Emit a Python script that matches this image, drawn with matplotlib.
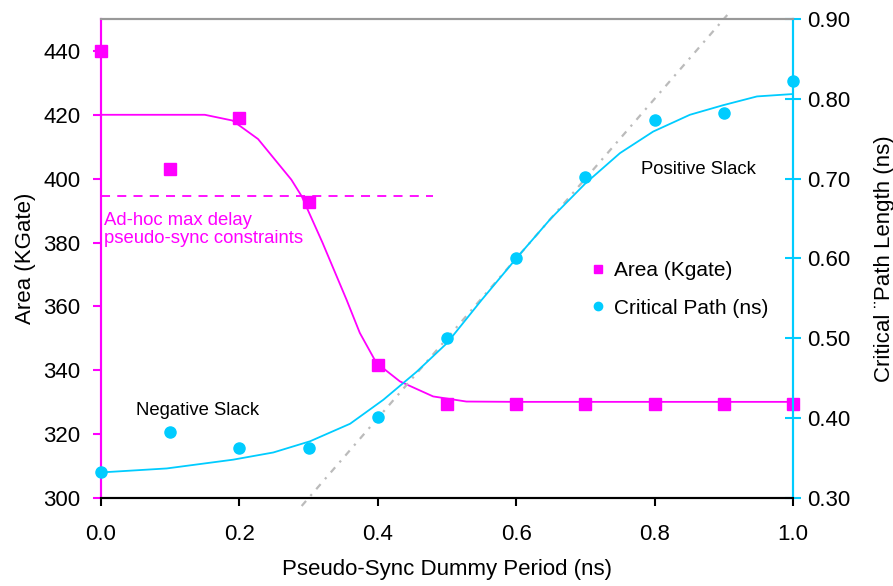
import matplotlib
matplotlib.use("Agg")
import matplotlib.pyplot as plt
from matplotlib.lines import Line2D

plt.rcParams['font.family'] = ['Liberation Sans', 'DejaVu Sans']

# measured points
period = [0.0, 0.1, 0.2, 0.3, 0.4, 0.5, 0.6, 0.7, 0.8, 0.9, 1.0]
area = [440, 403, 419, 392.7, 341.5, 329.5, 329.5, 329.5, 329.5, 329.5, 329.5]
crit = [0.332, 0.383, 0.362, 0.362, 0.402, 0.501, 0.601, 0.702, 0.773, 0.782, 0.822]

# fitted curves
area_fit_x = [0.0, 0.15, 0.19, 0.227, 0.275, 0.29, 0.32, 0.355, 0.374, 0.398, 0.432, 0.48, 0.504, 0.528, 0.6, 0.8, 1.0]
area_fit_y = [420, 420, 418.2, 412.4, 399.7, 394.5, 380, 362, 351.7, 342.3, 336.5, 331.8, 331, 330.2, 330.1, 330.1, 330.1]
crit_fit_x = [0.0, 0.095, 0.191, 0.249, 0.302, 0.36, 0.408, 0.456, 0.5, 0.55, 0.6, 0.65, 0.7, 0.75, 0.798, 0.851, 0.899, 0.948, 1.0]
crit_fit_y = [0.332, 0.337, 0.348, 0.357, 0.371, 0.393, 0.423, 0.458, 0.494, 0.548, 0.600, 0.650, 0.694, 0.732, 0.759, 0.780, 0.792, 0.803, 0.806]

# ad-hoc constraint level and ideal line
adhoc_level = 394.6
ideal_x = [0.29, 0.905]
ideal_y = [0.29, 0.905]

MAG = '#FF00FF'
CYAN = '#00CCFF'

fig = plt.figure(figsize=(8.93, 5.86), dpi=100)
ax = fig.add_axes([0.1131, 0.1502, 0.7749, 0.8174])
ax2 = ax.twinx()

ax.plot(area_fit_x, area_fit_y, color=MAG, lw=1.3)
ax.plot(period, area, 's', color=MAG, ms=8, clip_on=False, zorder=5)
ax.plot([0, 0.48], [adhoc_level, adhoc_level], color=MAG, lw=1.3, dashes=(5, 4))
ax.text(0.005, 389.5, "Ad-hoc max delay\npseudo-sync constraints", color=MAG,
        fontsize=13.3, va='top', ha='left', linespacing=1.05)
ax.text(0.05, 324.8, "Negative Slack", fontsize=13.3, va='bottom', ha='left')
ax.text(0.78, 400.2, "Positive Slack", fontsize=13.3, va='bottom', ha='left')

ax2.plot(ideal_x, ideal_y, color='#BBBBBB', lw=1.6, dashes=(3, 3, 1, 3), clip_on=False)
ax2.plot(crit_fit_x, crit_fit_y, color=CYAN, lw=1.3)
ax2.plot(period, crit, 'o', color=CYAN, ms=8, clip_on=False, zorder=5)

ax.set_xlim(0, 1.0)
ax.set_ylim(300, 450)
ax2.set_ylim(0.30, 0.90)
ax.set_xticks([0.0, 0.2, 0.4, 0.6, 0.8, 1.0])
ax.set_xticklabels(['0.0', '0.2', '0.4', '0.6', '0.8', '1.0'])
ax.set_yticks([300, 320, 340, 360, 380, 400, 420, 440])
ax2.set_yticks([0.3, 0.4, 0.5, 0.6, 0.7, 0.8, 0.9])
ax2.set_yticklabels(['0.30', '0.40', '0.50', '0.60', '0.70', '0.80', '0.90'])

for a in (ax, ax2):
    for s in a.spines.values():
        s.set_linewidth(1.5)
    a.spines['top'].set_color('#999999')
    a.spines['left'].set_color(MAG)
    a.spines['right'].set_color(CYAN)
    a.spines['bottom'].set_color('black')

ax.tick_params(axis='y', colors=MAG, labelcolor='black', direction='out', length=6, width=1.5,
               labelsize=16, pad=9)
ax.tick_params(axis='x', direction='out', length=6, width=1.5, labelsize=16, pad=13)
ax2.tick_params(axis='y', colors=CYAN, labelcolor='black', direction='inout', length=12, width=1.5,
                labelsize=16, pad=4)

ax.set_xlabel("Pseudo-Sync Dummy Period (ns)", fontsize=16, labelpad=10)
ax.set_ylabel("Area (KGate)", fontsize=16, labelpad=5)
ax2.set_ylabel("Critical ¨Path Length (ns)", fontsize=16, labelpad=17)

handles = [Line2D([], [], ls='none', marker='s', color=MAG, ms=6),
           Line2D([], [], ls='none', marker='o', color=CYAN, ms=6)]
ax2.legend(handles, ["Area (Kgate)", "Critical Path (ns)"], loc='upper left',
           bbox_to_anchor=(0.688, 0.516), frameon=False, fontsize=15,
           handletextpad=0.25, handlelength=1.0, labelspacing=0.88, borderpad=0)

fig.savefig("out.png", dpi=100)
